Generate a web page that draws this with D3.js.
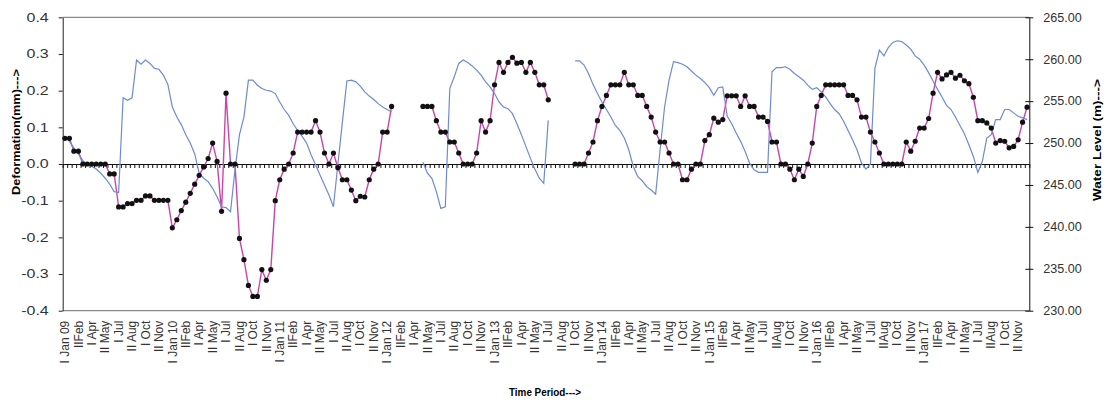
<!DOCTYPE html>
<html>
<head>
<meta charset="utf-8">
<script src="https://cdn.jsdelivr.net/npm/d3@7"></script>
<style>
  html, body { margin: 0; padding: 0; background: #fff; }
  svg { display: block; font-family: Arial, "Liberation Sans", sans-serif; }
</style>
</head>
<body>
<svg id="chart" width="1112" height="403"></svg>
<script>
// Fortnightly readings, I Jan 2009 to II Dec 2017 (216 periods); null = no reading
const periodLabels = [
  "I Jan 09","IIFeb","I Apr","II May","I Jul","II Aug","I Oct","II Nov",
  "I Jan 10","IIFeb","I Apr","II May","I Jul","II Aug","I Oct","II Nov",
  "I Jan 11","IIFeb","I Apr","II May","I Jul","II Aug","I Oct","II Nov",
  "I Jan 12","IIFeb","I Apr","II May","I Jul","II Aug","I Oct","II Nov",
  "I Jan 13","IIFeb","I Apr","II May","I Jul","II Aug","I Oct","II Nov",
  "I Jan 14","IIFeb","I Apr","II May","I Jul","II Aug","I Oct","II Nov",
  "I Jan 15","IIFeb","I Apr","II May","I Jul","IIAug","I Oct","II Nov",
  "I Jan 16","IIFeb","I Apr","II May","I Jul","IIAug","I Oct","II Nov",
  "I Jan 17","IIFeb","I Apr","II May","I Jul","IIAug","I Oct","II Nov"
];

// Deformation (mm)
const deformation = [
  0.07, 0.07, 0.035, 0.035, 0, 0, 0, 0, 0, 0,
  -0.027, -0.027, -0.117, -0.117, -0.108, -0.108, -0.099, -0.099, -0.087, -0.087,
  -0.099, -0.099, -0.099, -0.099, -0.174, -0.152, -0.127, -0.104, -0.080, -0.055,
  -0.031, -0.008, 0.015, 0.057, 0.007, -0.129, 0.193, 0, 0, -0.203,
  -0.261, -0.331, -0.361, -0.361, -0.288, -0.317, -0.288, -0.100, -0.043, -0.014,
  0, 0.030, 0.087, 0.087, 0.087, 0.087, 0.118, 0.087, 0.030, 0,
  0.030, -0.010, -0.043, -0.043, -0.071, -0.100, -0.088, -0.090, -0.043, -0.014,
  0, 0.087, 0.087, 0.157, null, null, null, null, null, null,
  0.157, 0.157, 0.157, 0.118, 0.087, 0.087, 0.060, 0.060, 0.030, 0,
  0, 0, 0.030, 0.118, 0.087, 0.118, 0.216, 0.277, 0.250, 0.277,
  0.291, 0.275, 0.277, 0.250, 0.277, 0.250, 0.216, 0.216, 0.175, null,
  null, null, null, null, 0, 0, 0, 0.030, 0.060, 0.118,
  0.157, 0.187, 0.216, 0.216, 0.216, 0.250, 0.216, 0.216, 0.187, 0.187,
  0.157, 0.128, 0.087, 0.060, 0.060, 0.030, 0, 0, -0.043, -0.043,
  -0.014, 0, 0, 0.064, 0.080, 0.125, 0.114, 0.121, 0.186, 0.186,
  0.186, 0.157, 0.186, 0.157, 0.157, 0.128, 0.128, 0.116, 0.060, 0.060,
  0, 0, -0.014, -0.043, -0.014, -0.034, 0, 0.057, 0.157, 0.187,
  0.216, 0.216, 0.216, 0.216, 0.216, 0.187, 0.187, 0.175, 0.128, 0.128,
  0.087, 0.060, 0.030, 0, 0, 0, 0, 0, 0.060, 0.035,
  0.062, 0.098, 0.098, 0.124, 0.193, 0.250, 0.232, 0.243, 0.250, 0.234,
  0.242, 0.227, 0.219, 0.182, 0.118, 0.118, 0.112, 0.098, 0.057, 0.064,
  0.062, 0.044, 0.048, 0.066, 0.114, 0.155
];

// Reservoir water level (m)
const waterLevel = [
  250.8, 250.2, 249.4, 248.7, 247.9, 247.5, 247.2, 246.9, 246.4, 245.8,
  245.1, 244.2, 244.1, 255.4, 255.1, 255.4, 259.9, 259.4, 259.9, 259.5,
  258.9, 258.8, 258.1, 257.0, 254.3, 253.1, 252.2, 251.0, 250.0, 248.7,
  246.4, 245.8, 245.4, 244.6, 243.6, 242.4, 242.3, 241.8, 246.8, 251.0,
  253.1, 257.5, 257.5, 256.9, 256.5, 256.3, 256.2, 255.9, 254.9, 254.0,
  253.3, 252.3, 251.5, 250.8, 250.0, 248.6, 247.4, 246.2, 245.0, 243.8,
  242.4, 247.5, 252.5, 257.4, 257.5, 257.3, 256.8, 256.1, 255.6, 255.2,
  254.7, 254.3, 254.0, 253.7, null, null, null, null, null, null,
  247.7, 246.4, 245.8, 244.2, 242.2, 242.4, 256.5, 257.9, 259.5, 259.9,
  259.6, 259.2, 258.7, 258.1, 257.3, 256.7, 255.9, 254.9, 254.3, 254.1,
  253.5, 252.3, 251.0, 249.6, 248.2, 246.9, 245.8, 245.2, 252.7, null,
  null, null, null, null, 259.8, 259.8, 259.3, 258.3, 257.0, 255.9,
  254.9, 254.0, 253.1, 252.1, 251.5, 250.6, 249.2, 247.2, 246.0, 245.5,
  244.8, 244.4, 243.9, 249.2, 254.3, 257.5, 259.7, 259.6, 259.4, 259.1,
  258.6, 258.1, 257.7, 257.2, 256.6, 255.7, 256.6, 256.7, 253.2, 252.3,
  251.2, 250.2, 249.0, 247.6, 246.8, 246.5, 246.5, 246.5, 258.5, 259.0,
  259.0, 259.1, 258.8, 258.3, 257.9, 257.5, 256.9, 256.4, 256.6, 256.1,
  255.5, 254.7, 254.0, 253.5, 252.6, 251.5, 250.4, 249.2, 247.6, 246.9,
  247.5, 258.9, 261.1, 260.4, 261.4, 262.0, 262.2, 262.1, 261.7, 261.2,
  260.4, 260.0, 259.3, 258.4, 257.4, 256.4, 255.5, 254.5, 254.0, 253.1,
  252.1, 251.1, 249.8, 248.4, 246.5, 247.8, 250.6, 251.0, 252.8, 252.8,
  254.0, 254.0, 253.6, 253.2, 253.0, 252.8
];

const deformationTicks = [-0.4, -0.3, -0.2, -0.1, 0.0, 0.1, 0.2, 0.3, 0.4];
const levelTicks = [230, 235, 240, 245, 250, 255, 260, 265];
const labelEvery = 3;

// ---- layout ----
const plot = { left: 62.7, right: 1029.3, top: 17.3, bottom: 310.7 };
const FONT = "Arial, 'Liberation Sans', sans-serif";
const svg = d3.select("#chart");

const x = d3.scaleBand().domain(d3.range(deformation.length)).range([plot.left, plot.right]);
const cx = i => x(i) + x.bandwidth() / 2;
const xEdge = d3.scaleLinear().domain([0, deformation.length]).range([plot.left, plot.right]);
const yL = d3.scaleLinear().domain([-0.4, 0.4]).range([plot.bottom, plot.top]);
const yR = d3.scaleLinear().domain([230, 265]).range([plot.bottom, plot.top]);

// stretch a text element along its own baseline
function widen(sel, factor) {
  sel.each(function () {
    const w = this.getComputedTextLength();
    d3.select(this).attr("textLength", w * factor).attr("lengthAdjust", "spacingAndGlyphs");
  });
}

// plot frame (top and bottom edges)
svg.append("line").attr("x1", plot.left).attr("x2", plot.right)
  .attr("y1", plot.top).attr("y2", plot.top).attr("stroke", "#8a8a8a").attr("stroke-width", 1.2);
svg.append("line").attr("x1", plot.left).attr("x2", plot.right)
  .attr("y1", plot.bottom).attr("y2", plot.bottom).attr("stroke", "#8a8a8a").attr("stroke-width", 1.2);

// left axis
const gL = svg.append("g").attr("transform", `translate(${plot.left},0)`)
  .call(d3.axisLeft(yL).tickValues(deformationTicks).tickFormat(d3.format(".1f"))
    .tickSize(4).tickSizeOuter(0).tickPadding(10));
gL.select(".domain").attr("stroke", "#222");
gL.selectAll(".tick line").attr("stroke", "#222");
gL.selectAll("text").attr("font-size", 12).attr("fill", "#333").attr("font-family", FONT)
  .text(d => d3.format(".1f")(d).replace("−", "-"));
widen(gL.selectAll("text"), 1.33);

// right axis (cross ticks)
const gR = svg.append("g").attr("transform", `translate(${plot.right},0)`)
  .call(d3.axisRight(yR).tickValues(levelTicks).tickFormat(d3.format(".2f"))
    .tickSize(4).tickSizeOuter(0).tickPadding(10));
gR.select(".domain").attr("stroke", "#111");
gR.selectAll(".tick line").attr("x1", -4).attr("stroke", "#111");
gR.selectAll("text").attr("font-size", 12).attr("fill", "#333").attr("font-family", FONT);
widen(gR.selectAll("text"), 1.05);

// category axis drawn along zero, with a tick at every period boundary
const gZ = svg.append("g").attr("transform", `translate(0,${yL(0)})`)
  .call(d3.axisBottom(xEdge).tickValues(d3.range(deformation.length + 1))
    .tickFormat("").tickSize(4).tickSizeOuter(0));
gZ.select(".domain").attr("stroke", "#111");
gZ.selectAll(".tick line").attr("stroke", "#111");

// period labels below the plot, rotated
const gB = svg.append("g").attr("transform", `translate(0,${plot.bottom})`)
  .call(d3.axisBottom(x).tickValues(d3.range(0, deformation.length, labelEvery))
    .tickFormat(i => periodLabels[i / labelEvery]).tickSize(0));
gB.select(".domain").remove();
gB.selectAll("text")
  .attr("transform", "rotate(-90)")
  .attr("x", -10).attr("y", 0).attr("dy", "0.35em")
  .style("text-anchor", "end")
  .attr("font-size", 12).attr("fill", "#333").attr("font-family", FONT);

// deformation line
const defLine = d3.line().defined(d => d != null).x((d, i) => cx(i)).y(d => yL(d));
svg.append("path").datum(deformation)
  .attr("d", defLine).attr("fill", "none").attr("stroke", "#cc44aa").attr("stroke-width", 1.4);

// water level line
const wlLine = d3.line().defined(d => d != null).x((d, i) => cx(i)).y(d => yR(d));
svg.append("path").datum(waterLevel)
  .attr("d", wlLine).attr("fill", "none").attr("stroke", "#6d8ad4").attr("stroke-width", 1.2);

// deformation markers
svg.append("g").selectAll("circle")
  .data(deformation.map((v, i) => ({ v, i })).filter(d => d.v != null))
  .join("circle")
  .attr("cx", d => cx(d.i)).attr("cy", d => yL(d.v)).attr("r", 2.6).attr("fill", "#111");

// axis titles
const tL = svg.append("text").attr("transform", "translate(20,132) rotate(-90)")
  .attr("text-anchor", "middle").attr("font-size", 11).attr("font-weight", "bold")
  .text("Deformation(mm)--->");
tL.attr("textLength", 126).attr("lengthAdjust", "spacingAndGlyphs");
const tR = svg.append("text").attr("transform", "translate(1101,140) rotate(-90)")
  .attr("text-anchor", "middle").attr("font-size", 11).attr("font-weight", "bold")
  .text("Water Level (m)--->");
tR.attr("textLength", 122).attr("lengthAdjust", "spacingAndGlyphs");
const tB = svg.append("text").attr("x", 545).attr("y", 396)
  .attr("text-anchor", "middle").attr("font-size", 11).attr("font-weight", "bold")
  .text("Time Period--->");
tB.attr("textLength", 72).attr("lengthAdjust", "spacingAndGlyphs");
</script>
</body>
</html>
